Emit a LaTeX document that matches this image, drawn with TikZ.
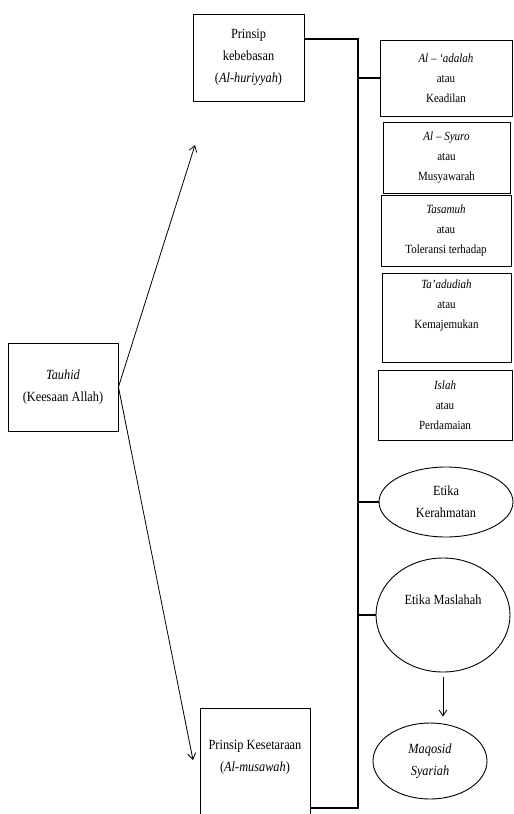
\documentclass[tikz,border=0pt]{standalone}
\usepackage{fontspec}
\setmainfont{Liberation Serif}[FakeStretch=0.88]
\usetikzlibrary{shapes.geometric,arrows.meta}

\begin{document}
\begin{tikzpicture}[
x=1pt, y=-1pt,
every node/.style={align=center, inner sep=0pt, font=\fontsize{14}{22}\selectfont},
kotak/.style={draw, line width=0.9pt},
sila/.style={draw, line width=0.9pt, minimum width=130, font=\fontsize{12.5}{20}\selectfont},
etika/.style={draw, ellipse, line width=0.9pt},
garis/.style={line width=1.5pt},
panah/.style={-{Straight Barb[length=6pt,width=8pt]}, line width=0.8pt}
]
\useasboundingbox (0,0) rectangle (514,814);
\clip (0,0) rectangle (514,814);

% pusat dan dua prinsip
\node[kotak, minimum width=110, minimum height=88] (tauhid) at (63,387) {\textit{Tauhid}\\(Keesaan Allah)};
\node[kotak, minimum width=111, minimum height=87] (bebas) at (248.5,57.5) {Prinsip\\kebebasan\\(\textit{Al-huriyyah})};
\node[kotak, minimum width=110, minimum height=114,
  label={[yshift=8pt]center:Prinsip Kesetaraan\\(\textit{Al-musawah})}] (setara) at (255,765) {};

% nilai-nilai
\node[sila, minimum width=132, minimum height=76] (adalah) at (446,78) {\textit{Al – ‘adalah}\\atau\\Keadilan};
\node[sila, minimum width=127, minimum height=71] (syuro) at (446.5,157.5) {\textit{Al – Syuro}\\atau\\Musyawarah};
\node[sila, minimum height=71] (tasamuh) at (446,230.5) {\textit{Tasamuh}\\atau\\Toleransi terhadap};
\node[sila, minimum width=129, minimum height=89] (taadud) at (446.5,317.5) {\textit{Ta’adudiah}\\atau\\Kemajemukan\\[6pt]};
\node[sila, minimum width=134, minimum height=70] (islah) at (445,405) {\textit{Islah}\\atau\\Perdamaian};

% etika
\node[etika, minimum width=134, minimum height=70] (rahmat) at (446,502) {Etika\\Kerahmatan};
\node[etika, minimum width=134, minimum height=114] (maslahah) at (443,615) {Etika Maslahah\\[8pt]};
\node[etika, minimum width=114, minimum height=76] (maqosid) at (430,761) {\textit{Maqosid}\\\textit{Syariah}};

% garis penghubung
\coordinate (atas) at (358,39);
\coordinate (bawah) at (358,808);
\draw[garis] (bebas.east |- atas) -- (atas) -- (bawah) -- (setara.east |- bawah);
\draw[garis] (atas |- adalah) -- (adalah.west);
\draw[garis] (atas |- rahmat) -- (rahmat.west);
\draw[garis] (atas |- maslahah) -- (maslahah.west);

% panah
\coordinate (ujungA) at (195,145);
\coordinate (ujungB) at (193,760);
\draw[panah] (tauhid.east) -- (ujungA);
\draw[panah] (tauhid.east) -- (ujungB);
\draw[panah, shorten <=5pt, shorten >=6pt] (maslahah.south) -- (maslahah.south |- maqosid.north);
\end{tikzpicture}
\end{document}
